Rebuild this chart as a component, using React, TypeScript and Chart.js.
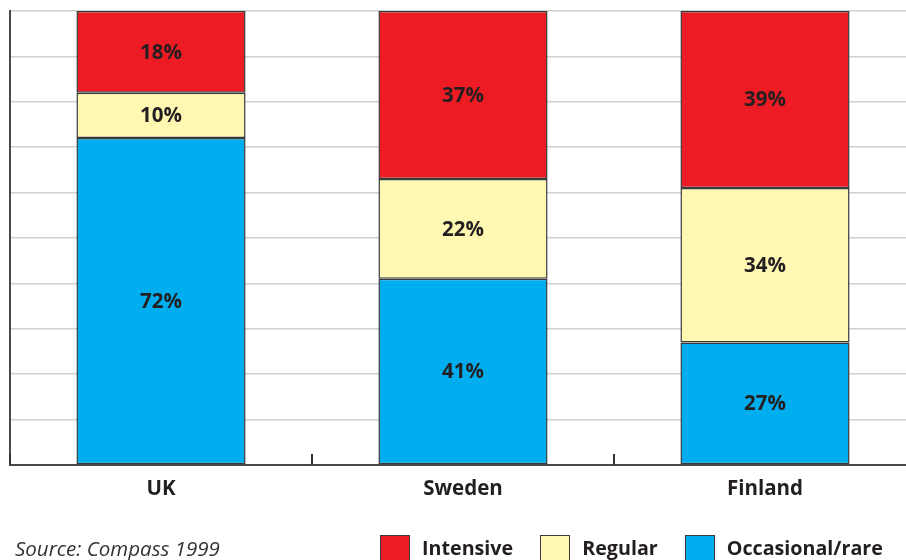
import React, { useEffect, useRef } from "react";
import { Chart, registerables } from "chart.js";

Chart.register(...registerables);

const categories = ["UK", "Sweden", "Finland"];
const seriesNames = ["Occasional/rare", "Regular", "Intensive"];
const occasionalValues = [72, 41, 27];
const regularValues = [10, 22, 34];
const intensiveValues = [18, 37, 39];
const seriesValues = [occasionalValues, regularValues, intensiveValues];
const seriesColors = ["#00aeef", "#fff8b3", "#ed1c24"];
const legendOrder = [2, 1, 0];
const sourceText = "Source: Compass 1999";

const FONT = "'Open Sans', Lato, sans-serif";
const TEXT_COLOR = "#231f20";

const overlayPlugin = {
  id: "overlay",
  afterDatasetsDraw(chart: any) {
    const ctx = chart.ctx;
    ctx.save();
    ctx.font = `bold 20.5px ${FONT}`;
    ctx.fillStyle = TEXT_COLOR;
    ctx.textAlign = "center";
    ctx.textBaseline = "middle";
    chart.data.datasets.forEach((ds: any, i: number) => {
      const meta = chart.getDatasetMeta(i);
      meta.data.forEach((el: any, j: number) => {
        const p = el.getProps(["x", "y", "base"], true);
        ctx.fillText(ds.data[j] + "%", p.x, (p.y + p.base) / 2 + 1);
      });
    });
    // inward tick marks at category boundaries
    const xs = chart.scales.x;
    const bottom = chart.chartArea.bottom;
    ctx.strokeStyle = "#333333";
    ctx.lineWidth = 2;
    for (let i = 0; i <= categories.length; i++) {
      const px = Math.round(xs.getPixelForValue(i - 0.5));
      ctx.beginPath();
      ctx.moveTo(px, bottom);
      ctx.lineTo(px, bottom - 11);
      ctx.stroke();
    }
    ctx.restore();
  },
};

export default function App() {
  const ref = useRef<HTMLCanvasElement | null>(null);

  useEffect(() => {
    if (!ref.current) return;
    const chart = new Chart(ref.current, {
      type: "bar",
      data: {
        labels: categories,
        datasets: seriesNames.map((name, i) => ({
          label: name,
          data: seriesValues[i],
          backgroundColor: seriesColors[i],
          borderColor: "#3a3a3a",
          borderWidth: 1.5,
          borderSkipped: false,
          barPercentage: 0.56,
          categoryPercentage: 1,
        })),
      },
      options: {
        animation: false,
        responsive: false,
        devicePixelRatio: 1,
        layout: { padding: { left: 10, top: 11, right: 0, bottom: 0 } },
        plugins: {
          legend: { display: false },
          tooltip: { enabled: false },
        },
        scales: {
          x: {
            stacked: true,
            offset: true,
            grid: { display: false, drawTicks: false },
            border: { display: true, color: "#4a4a4a", width: 2 },
            ticks: {
              padding: 12,
              color: TEXT_COLOR,
              font: { family: FONT, size: 20.5, weight: "bold" },
            },
            afterFit: (scale: any) => {
              scale.height = 95;
            },
          },
          y: {
            stacked: true,
            min: 0,
            max: 100,
            ticks: { display: false, stepSize: 10 },
            grid: { color: "#cfcfcf", lineWidth: 1.5, drawTicks: false },
            border: { display: true, color: "#4a4a4a", width: 2 },
            afterFit: (scale: any) => {
              scale.width = 0;
            },
          },
        },
      },
      plugins: [overlayPlugin],
    });
    return () => chart.destroy();
  }, []);

  return (
    <div
      style={{
        position: "fixed",
        left: 0,
        top: 0,
        width: 906,
        height: 560,
        overflow: "hidden",
        background: "#ffffff",
      }}
    >
      <canvas ref={ref} width={916} height={560} style={{ width: 916, height: 560, display: "block" }} />
      <div
        style={{
          position: "absolute",
          left: 15,
          top: 534,
          fontFamily: FONT,
          fontStyle: "italic",
          fontSize: 20.5,
          color: "#333333",
          lineHeight: "28px",
          whiteSpace: "nowrap",
        }}
      >
        {sourceText}
      </div>
      <div
        style={{
          position: "absolute",
          left: 380,
          top: 535,
          display: "flex",
          alignItems: "flex-start",
          fontFamily: FONT,
          fontWeight: "bold",
          fontSize: 19.7,
          color: TEXT_COLOR,
          whiteSpace: "nowrap",
        }}
      >
        {legendOrder.map((idx) => (
          <div key={seriesNames[idx]} style={{ display: "flex", alignItems: "flex-start", marginRight: 27 }}>
            <div
              style={{
                width: 30,
                height: 26,
                background: seriesColors[idx],
                border: "1.5px solid #3a3a3a",
                boxSizing: "border-box",
                marginRight: 12,
              }}
            />
            <span style={{ lineHeight: "25px" }}>{seriesNames[idx]}</span>
          </div>
        ))}
      </div>
    </div>
  );
}
